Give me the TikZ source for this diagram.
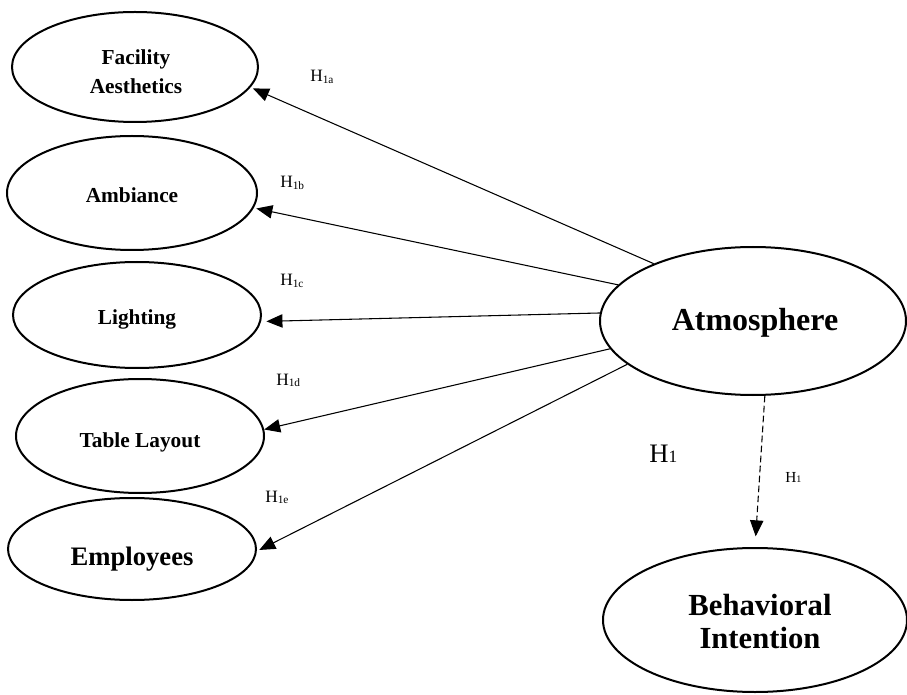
\documentclass[tikz,border=0pt]{standalone}
\usepackage{fontspec}
\setmainfont{Liberation Serif}
\usetikzlibrary{shapes.geometric,arrows.meta}
\tikzset{
  oval/.style={draw, ellipse, line width=1.5pt, inner sep=0pt},
  ovaltext/.style={anchor=base, align=center, inner sep=0pt, font=\bfseries},
  hyplabel/.style={anchor=base west, inner sep=0pt},
  link/.style={line width=0.8pt, -{Triangle[length=12pt,width=10pt]}, shorten >=2pt},
  dashlink/.style={line width=0.8pt, dash pattern=on 5pt off 2.5pt, -{Triangle[length=12pt,width=10pt]}}
}
\newcommand{\hsub}[1]{H{\fontsize{8.5}{8.5}\selectfont\raisebox{-1.3pt}{#1}}}
\begin{document}
\begin{tikzpicture}[x=0.75pt,y=-0.75pt]
\useasboundingbox (0,0) rectangle (907,695);
% ellipses
\node[oval, minimum width=184.5pt, minimum height=82.5pt] (fa) at (135,67) {};
\node[oval, minimum width=187.5pt, minimum height=85.5pt] (am) at (132,193) {};
\node[oval, minimum width=186pt, minimum height=79.5pt] (li) at (137,315) {};
\node[oval, minimum width=186pt, minimum height=85.5pt] (tl) at (140,436) {};
\node[oval, minimum width=186pt, minimum height=76.5pt] (em) at (132,549) {};
\node[oval, minimum width=229.5pt, minimum height=111pt] (at) at (753,321) {};
\node[oval, minimum width=228pt, minimum height=108pt] (bi) at (755,620) {};
% texts
\node[ovaltext, font=\bfseries\fontsize{16}{21.75}\selectfont] (fat) at (136,94) {Facility\\Aesthetics};
\node[ovaltext, font=\bfseries\fontsize{16}{19}\selectfont] (amt) at (132,203) {Ambiance};
\node[ovaltext, font=\bfseries\fontsize{16}{19}\selectfont] (lit) at (137,325) {Lighting};
\node[ovaltext, font=\bfseries\fontsize{16}{19}\selectfont] (tlt) at (140,447) {Table Layout};
\node[ovaltext, font=\bfseries\fontsize{20}{24}\selectfont] (emt) at (132,565) {Employees};
\node[ovaltext, font=\bfseries\fontsize{24}{28}\selectfont] (att) at (755,331) {Atmosphere};
\node[ovaltext, font=\bfseries\fontsize{23}{24.75}\selectfont] (bit) at (760,648) {Behavioral\\Intention};
% labels
\node[hyplabel, font=\fontsize{13}{15}\selectfont] (h1a) at (310,82) {\hsub{1a}};
\node[hyplabel, font=\fontsize{13}{15}\selectfont] (h1b) at (280,188) {\hsub{1b}};
\node[hyplabel, font=\fontsize{13}{15}\selectfont] (h1c) at (280,286) {\hsub{1c}};
\node[hyplabel, font=\fontsize{13}{15}\selectfont] (h1d) at (276,385) {\hsub{1d}};
\node[hyplabel, font=\fontsize{13}{15}\selectfont] (h1e) at (265,502) {\hsub{1e}};
\node[hyplabel, font=\fontsize{20}{24}\selectfont] (hbig) at (649,462) {H{\fontsize{13}{13}\selectfont 1}};
\node[hyplabel, font=\fontsize{11.5}{13}\selectfont] (hsmall) at (785,482) {H{\fontsize{7.5}{7.5}\selectfont 1}};
% connectors
\draw[link] (at.150.3) -- (fa.-10.2);
\draw[link] (at.165.4) -- (am.-7.7);
\draw[link, shorten >=4pt] (at.177.8) -- (li.-3.5);
\draw[link, shorten >=0pt] (at.191.6) -- (tl.3.7);
\draw[link] (at.199.8) -- (em.-1.8);
\draw[dashlink, shorten >=8pt] (at.-81.5) -- (bi.north);
\end{tikzpicture}
\end{document}
